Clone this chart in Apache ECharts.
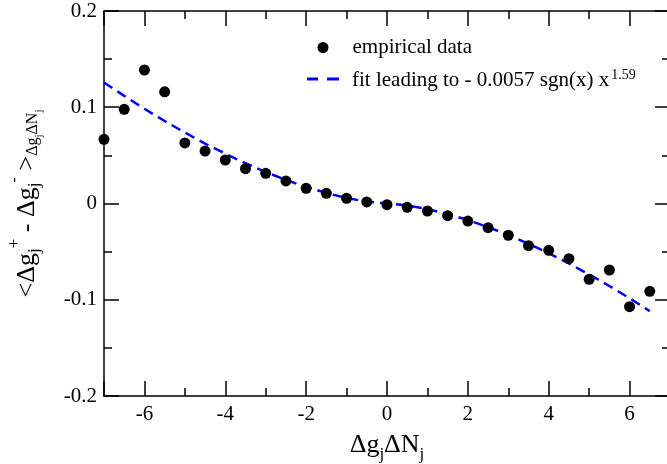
<!DOCTYPE html>
<html>
<head>
<meta charset="utf-8">
<script src="https://cdn.jsdelivr.net/npm/echarts@6/dist/echarts.min.js"></script>
<style>
html,body{margin:0;padding:0;background:#fff;}
#chart{width:667px;height:464px;}
</style>
</head>
<body>
<div id="chart"></div>
<script>
// ---- data ----
var xValues = [-7, -6.5, -6, -5.5, -5, -4.5, -4, -3.5, -3, -2.5, -2, -1.5, -1, -0.5,
               0, 0.5, 1, 1.5, 2, 2.5, 3, 3.5, 4, 4.5, 5, 5.5, 6, 6.5];
var empiricalValues = [0.0667, 0.0979, 0.1387, 0.116, 0.0629, 0.0545, 0.0452, 0.0362, 0.0314, 0.0234,
                       0.0158, 0.0106, 0.0054, 0.0016, -0.0012, -0.004, -0.0078, -0.0126, -0.0182, -0.0251,
                       -0.033, -0.0438, -0.0486, -0.0573, -0.0788, -0.0691, -0.1072, -0.0912];
var fitValues = [0.1258, 0.1118, 0.0984, 0.0857, 0.0737, 0.0623, 0.0517, 0.0418, 0.0327, 0.0245,
                 0.0172, 0.0109, 0.0057, 0.0019, 0, -0.0019, -0.0057, -0.0109, -0.0172, -0.0245,
                 -0.0327, -0.0418, -0.0517, -0.0623, -0.0737, -0.0857, -0.0984, -0.1118];
var seriesNames = ['empirical data', 'fit leading to - 0.0057 sgn(x) x'];
var fitExponent = '1.59';

function pairs(xs, ys) {
  var out = [];
  for (var i = 0; i < xs.length; i++) out.push([xs[i], ys[i]]);
  return out;
}

var FONT = '"Liberation Serif", "DejaVu Serif", serif';
var axisLine = { show: true, onZero: false, lineStyle: { color: '#000', width: 1.5 } };
var axisTick = { show: true, inside: true, length: 15, lineStyle: { color: '#000', width: 1.5 } };
var minorTick = { show: true, splitNumber: 2, length: 8, lineStyle: { color: '#000', width: 1.5 } };
var labelStyle = { color: '#000', fontFamily: FONT, fontSize: 21 };

var chart = echarts.init(document.getElementById('chart'), null, { renderer: 'canvas' });

var option = {
  animation: false,
  backgroundColor: '#fff',
  grid: { left: 104, top: 11, width: 566, height: 385, containLabel: false, outerBoundsMode: 'none' },
  xAxis: [
    {
      type: 'value', position: 'bottom', min: -7, max: 7, splitNumber: 7,
      axisLine: axisLine, axisTick: axisTick, minorTick: minorTick,
      splitLine: { show: false }, minorSplitLine: { show: false },
      axisLabel: Object.assign({ margin: 8, showMinLabel: false, showMaxLabel: false }, labelStyle),
      name: '{m|Δg}{s|j}{m|ΔN}{s|j}',
      nameLocation: 'middle', nameGap: 36,
      nameTextStyle: {
        color: '#000', fontFamily: FONT,
        rich: {
          m: { fontFamily: FONT, fontSize: 26, color: '#000', verticalAlign: 'top', lineHeight: 26, padding: [0, 0, 0, 0] },
          s: { fontFamily: FONT, fontSize: 17, color: '#000', verticalAlign: 'top', lineHeight: 17, padding: [14, 0, 0, 0] }
        }
      }
    },
    {
      type: 'value', position: 'top', min: -7, max: 7, splitNumber: 7,
      axisLine: axisLine, axisTick: axisTick, minorTick: minorTick,
      splitLine: { show: false }, axisLabel: { show: false }
    }
  ],
  yAxis: [
    {
      type: 'value', position: 'left', min: -0.2, max: 0.2, interval: 0.1,
      axisLine: axisLine, axisTick: axisTick, minorTick: minorTick,
      splitLine: { show: false }, minorSplitLine: { show: false },
      axisLabel: Object.assign({ margin: 7 }, labelStyle),
      name: '{m|<Δg}{s|j}{p|+}{m| - Δg}{s|j}{p|-}{m| >}{t|Δg}{u|j}{t|ΔN}{u|j}',
      nameLocation: 'middle', nameRotate: 90, nameGap: 72,
      nameTextStyle: {
        color: '#000', fontFamily: FONT,
        rich: {
          m: { fontFamily: FONT, fontSize: 26, color: '#000', verticalAlign: 'top', lineHeight: 26, padding: [8, 0, 10, 0] },
          s: { fontFamily: FONT, fontSize: 17, color: '#000', verticalAlign: 'top', lineHeight: 17, padding: [20, 0, 0, 0] },
          p: { fontFamily: FONT, fontSize: 17, color: '#000', verticalAlign: 'top', lineHeight: 17, padding: [0, 0, 0, 0] },
          t: { fontFamily: FONT, fontSize: 16, color: '#000', verticalAlign: 'top', lineHeight: 16, padding: [19, 0, 0, 0] },
          u: { fontFamily: FONT, fontSize: 11, color: '#000', verticalAlign: 'top', lineHeight: 11, padding: [28, 0, 0, 0] }
        }
      }
    },
    {
      type: 'value', position: 'right', min: -0.2, max: 0.2, interval: 0.1,
      axisLine: axisLine, axisTick: axisTick, minorTick: minorTick,
      splitLine: { show: false }, axisLabel: { show: false }
    }
  ],
  legend: [
    {
      left: 317.5, top: 37, orient: 'vertical', padding: 0,
      data: [{ name: seriesNames[0], icon: 'circle' }],
      itemWidth: 11, itemHeight: 11,
      formatter: function (name) { return '{b|' + name + '}'; },
      textStyle: {
        color: '#000', fontFamily: FONT, fontSize: 21,
        rich: {
          b: { fontFamily: FONT, fontSize: 21, color: '#000', lineHeight: 22, padding: [0, 0, 0, 19] }
        }
      }
    },
    {
      left: 307, top: 68, orient: 'vertical', padding: 0,
      data: [{ name: seriesNames[1], icon: 'path://M0,0h11v3h-11z M20,0h12v3h-12z' }],
      itemWidth: 32, itemHeight: 3,
      formatter: function (name) { return '{b|' + name + '}{sup|' + fitExponent + '}'; },
      textStyle: {
        color: '#000', fontFamily: FONT, fontSize: 21,
        rich: {
          b: { fontFamily: FONT, fontSize: 21, color: '#000', verticalAlign: 'top', lineHeight: 22, padding: [2, 0, 10, 8] },
          sup: { fontFamily: FONT, fontSize: 14, color: '#000', verticalAlign: 'top', lineHeight: 14, padding: [0, 0, 0, 2] }
        }
      }
    }
  ],
  series: [
    {
      name: seriesNames[0], type: 'scatter', xAxisIndex: 0, yAxisIndex: 0,
      symbol: 'circle', symbolSize: 11,
      itemStyle: { color: '#000', opacity: 1 },
      data: pairs(xValues, empiricalValues), z: 3
    },
    {
      name: seriesNames[1], type: 'line', xAxisIndex: 0, yAxisIndex: 0,
      symbol: 'none', showSymbol: false,
      lineStyle: { color: '#0000ff', width: 2.5, type: [10, 6] },
      itemStyle: { color: '#0000ff' },
      data: pairs(xValues, fitValues), z: 2
    }
  ]
};
chart.setOption(option);
</script>
</body>
</html>
